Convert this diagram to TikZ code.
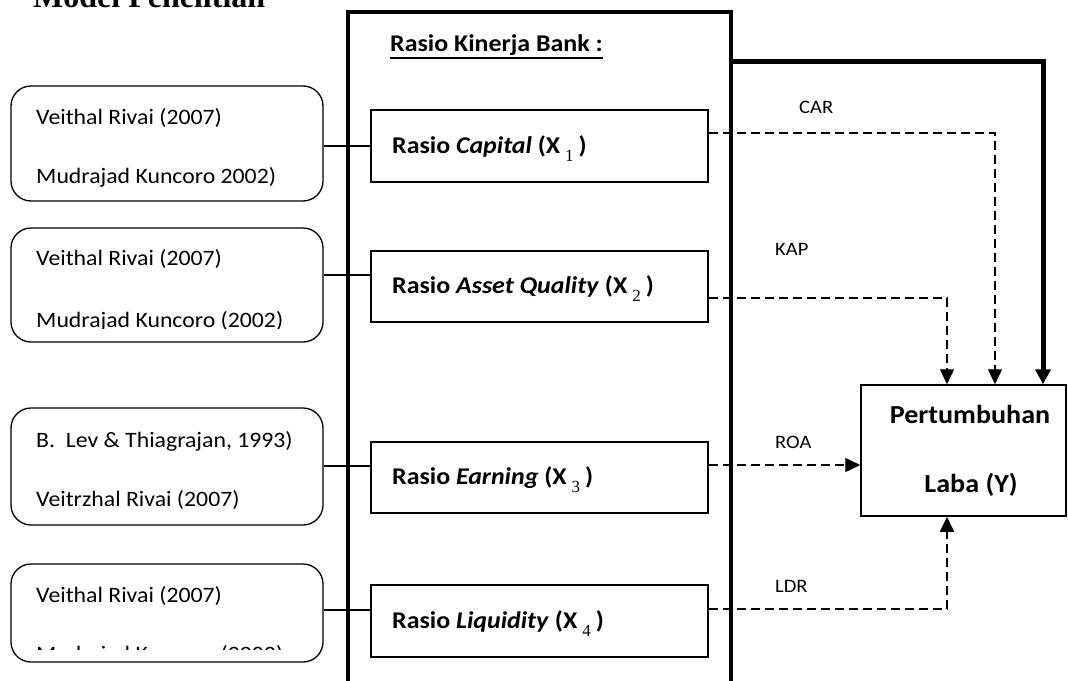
\documentclass[tikz,border=0pt]{standalone}
\usepackage{fontspec}
\setmainfont{Carlito}[FakeStretch=1.08]
\newfontfamily\titlefont{Liberation Serif}
\newfontfamily\subfont{Liberation Serif}
\usetikzlibrary{arrows.meta}
\newcommand{\regsize}{\fontsize{22}{26}\selectfont}
\newcommand{\boldsize}{\bfseries\fontsize{24}{28}\selectfont}
\newcommand{\sm}[1]{\hspace{5pt}\raisebox{-8pt}{\subfont\mdseries\fontsize{17}{17}\selectfont #1}\hspace{5pt}}
\tikzset{
  refbox/.style={draw, rounded corners=20pt, line width=1.3pt, minimum width=312pt},
  ratbox/.style={draw, line width=1.5pt, minimum width=337pt},
  bigbox/.style={draw, line width=4pt},
  conn/.style={line width=1.3pt},
  dashline/.style={line width=1.4pt, dash pattern=on 9pt off 5pt},
  tip/.style={-{Triangle[length=15pt,width=14pt]}},
  reftext/.style={anchor=base west, inner sep=0pt, font=\regsize},
  rattext/.style={anchor=base west, inner sep=0pt, font=\boldsize},
  lbl/.style={anchor=base west, inner sep=0pt, font=\fontsize{19}{22}\selectfont},
}
\begin{document}
\begin{tikzpicture}[x=1pt,y=-1pt]
\useasboundingbox (0,0) rectangle (1068,680);
% title (cut at the top)
\node[anchor=base west, inner sep=0pt, font=\titlefont\bfseries\fontsize{32}{32}\selectfont] (title) at (33,7) {Model Penelitian};

% big box
\node[bigbox, minimum width=383pt, minimum height=700pt, inner sep=0pt] (big) at (539.5,362) {};
\node[anchor=base west, inner sep=0pt, font=\boldsize] (kb) at (390,51) {Rasio Kinerja Bank :};
\draw[line width=2pt] ([yshift=-7pt]kb.base west) -- ([yshift=-7pt]kb.base east);

% ratio boxes
\node[ratbox, minimum height=72pt] (cap) at (539.5,146) {};
\node[ratbox, minimum height=71pt] (asset) at (539.5,286.5) {};
\node[ratbox, minimum height=71pt] (earn) at (539.5,477.5) {};
\node[ratbox, minimum height=72pt] (liq) at (539.5,621) {};
\node[rattext] (capt) at (392,153) {Rasio \textit{Capital} (X\sm{1})};
\node[rattext] (assett) at (392,293) {Rasio \textit{Asset Quality} (X\sm{2})};
\node[rattext] (earnt) at (392,484) {Rasio \textit{Earning} (X\sm{3})};
\node[rattext] (liqt) at (392,628) {Rasio \textit{Liquidity} (X\sm{4})};

% reference boxes
\node[refbox, minimum height=115pt] (r1) at (167,143.5) {};
\node[refbox, minimum height=114pt] (r2) at (167,285) {};
\node[refbox, minimum height=117pt] (r3) at (167,466.5) {};
\node[refbox, minimum height=98pt] (r4) at (167,613) {};
\node[reftext] (r1a) at (36,124) {Veithal Rivai (2007)};
\begin{scope}
\clip (20,150) rectangle (320,186);
\node[reftext] (r1b) at (36,183) {Mudrajad Kuncoro 2002)};
\end{scope}
\node[reftext] (r2a) at (36,265) {Veithal Rivai (2007)};
\begin{scope}
\clip (20,300) rectangle (320,328);
\node[reftext] (r2b) at (36,327) {Mudrajad Kuncoro (2002)};
\end{scope}
\node[reftext] (r3a) at (36,447) {B.\ \ Lev \& Thiagrajan, 1993)};
\node[reftext] (r3b) at (36,506) {Veitrzhal Rivai (2007)};
\node[reftext] (r4a) at (36,602) {Veithal Rivai (2007)};
\begin{scope}
\clip (20,620) rectangle (320,649);
\node[reftext] (r4b) at (36,661) {Mudrajad Kuncoro (2002)};
\end{scope}

% connectors from references
\draw[conn] (r1.east |- 0,146) -- (cap.west |- 0,146);
\draw[conn] (r2.east |- 0,275) -- (asset.west |- 0,275);
\draw[conn] (r3.east |- 0,466) -- (earn.west |- 0,466);
\draw[conn] (r4.east |- 0,610) -- (liq.west |- 0,610);

% result box
\node[draw, line width=1.5pt, minimum width=205pt, minimum height=131pt, inner sep=0pt] (Y) at (963.5,450.5) {};
\node[anchor=base, inner sep=0pt, font=\bfseries\fontsize{26}{30}\selectfont] (Yt1) at (970,423) {Pertumbuhan};
\node[anchor=base, inner sep=0pt, font=\bfseries\fontsize{26}{30}\selectfont] (Yt2) at (971,492) {Laba (Y)};

% dashed links
\draw[dashline, tip] (cap.east |- 0,133) -| (Y.north -| 995,0);
\draw[dashline, tip] (asset.east |- 0,298) -| (Y.north -| 947,0);
\draw[dashline, tip] (earn.east |- 0,465) -- (Y.west |- 0,465);
\draw[dashline, tip] (liq.east |- 0,609) -| (Y.south -| 947,0);
% thick link
\draw[line width=5pt, -{Triangle[length=15pt,width=15pt]}] (big.east |- 0,61) -| (Y.north -| 1043,0);

% labels
\node[lbl] (car) at (799,113) {CAR};
\node[lbl] (kap) at (775,255) {KAP};
\node[lbl] (roa) at (775,448) {ROA};
\node[lbl] (ldr) at (775,592) {LDR};
\end{tikzpicture}
\end{document}
